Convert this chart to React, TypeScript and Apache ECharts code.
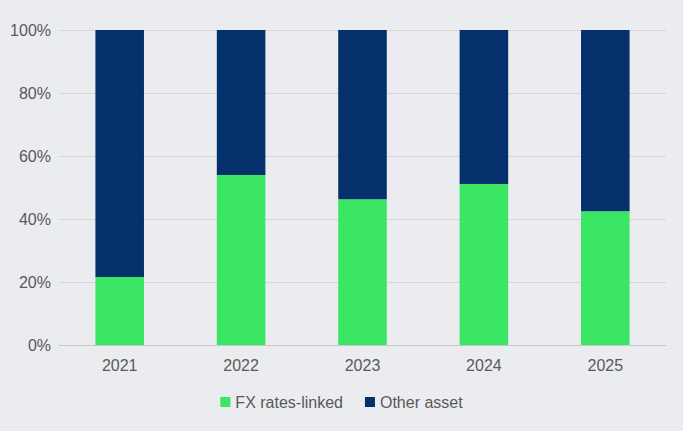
import React, { useEffect, useRef } from "react";
import * as echarts from "echarts";

const categories = ["2021", "2022", "2023", "2024", "2025"];
const fxLinked = [21.6, 54.0, 46.3, 51.1, 42.5];
const otherAsset = fxLinked.map((v) => +(100 - v).toFixed(1));

export default function App() {
  const ref = useRef<HTMLDivElement>(null);
  useEffect(() => {
    const chart = echarts.init(ref.current!, null, { renderer: "svg" });
    chart.setOption({
      animation: false,
      backgroundColor: "#ebecf0",
      textStyle: { fontFamily: "Arial, Liberation Sans, sans-serif" },
      grid: { left: 59, right: 17, top: 30, bottom: 86, containLabel: false },
      legend: {
        bottom: 16,
        itemWidth: 10,
        itemHeight: 10,
        itemGap: 22,
        icon: "rect",
        textStyle: { color: "#595959", fontSize: 16 },
        data: ["FX rates-linked", "Other asset"],
      },
      xAxis: {
        type: "category",
        data: categories,
        axisTick: { show: false },
        axisLine: { lineStyle: { color: "#c8c8c8" } },
        axisLabel: { color: "#595959", fontSize: 16, margin: 12 },
      },
      yAxis: {
        type: "value",
        min: 0,
        max: 100,
        interval: 20,
        axisLabel: { formatter: "{value}%", color: "#595959", fontSize: 16, margin: 8 },
        splitLine: { lineStyle: { color: "#d6d6d6" } },
      },
      series: [
        {
          name: "FX rates-linked",
          type: "bar",
          stack: "a",
          barWidth: "40%",
          data: fxLinked,
          itemStyle: { color: "#3be665" },
        },
        {
          name: "Other asset",
          type: "bar",
          stack: "a",
          data: otherAsset,
          itemStyle: { color: "#04306b" },
        },
      ],
    });
    return () => chart.dispose();
  }, []);
  return <div ref={ref} style={{ width: 683, height: 431, position: "absolute", left: 0, top: 0 }} />;
}
